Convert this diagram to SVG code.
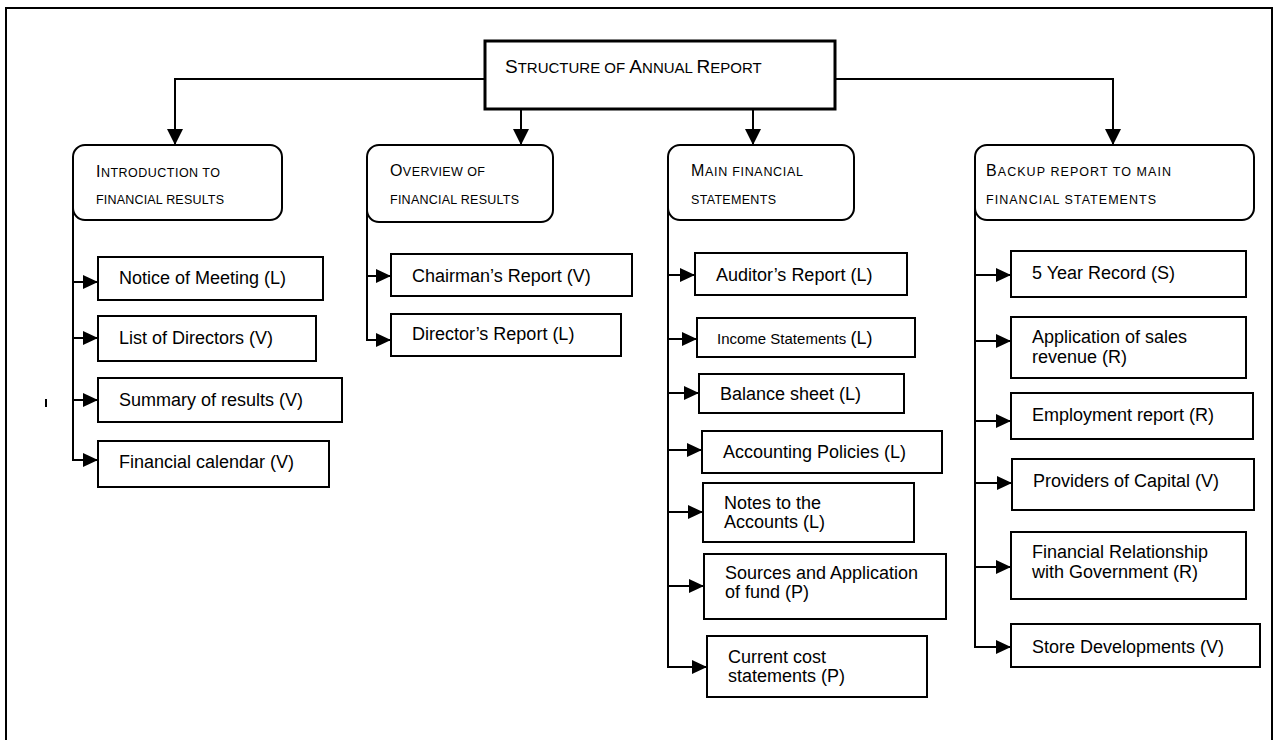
<svg xmlns="http://www.w3.org/2000/svg" width="1280" height="740" viewBox="0 0 1280 740">
<defs>
<marker id="arr" viewBox="0 0 15 14" refX="15" refY="7" markerWidth="15" markerHeight="14" markerUnits="userSpaceOnUse" orient="auto">
<path d="M0,0 L15,7 L0,14 Z" fill="#000"/>
</marker>
<marker id="arrD" viewBox="0 0 16 16" refX="16" refY="8" markerWidth="16" markerHeight="16" markerUnits="userSpaceOnUse" orient="auto">
<path d="M0,0 L16,8 L0,16 Z" fill="#000"/>
</marker>
</defs>
<style>
text{font-family:"Liberation Sans",Arial,sans-serif;fill:#000}
.lbl{font-size:18px}
.title .b{font-size:19px}
.title .s{font-size:15px}
.hdr .b{font-size:16px}
.hdr .s{font-size:12.5px}
.box{fill:#fff;stroke:#000;stroke-width:2}
.rbox{fill:#fff;stroke:#000;stroke-width:2}
.con{fill:none;stroke:#000;stroke-width:2}
</style>
<rect width="1280" height="740" fill="#fff"/>
<path d="M6,740 V8 H1272 V740" fill="none" stroke="#000" stroke-width="2"/>
<rect x="45" y="399" width="2" height="8" fill="#000"/>

<g id="connectors">
<path class="con" d="M484,79 H175 V145" marker-end="url(#arrD)"/>
<path class="con" d="M836,79 H1113 V145" marker-end="url(#arrD)"/>
<path class="con" d="M521,110 V145" marker-end="url(#arrD)"/>
<path class="con" d="M753,110 V145" marker-end="url(#arrD)"/>
<!-- column 1 -->
<path class="con" d="M73,208 V460 H98" marker-end="url(#arr)"/>
<path class="con" d="M73,282 H98" marker-end="url(#arr)"/>
<path class="con" d="M73,338 H98" marker-end="url(#arr)"/>
<path class="con" d="M73,400 H98" marker-end="url(#arr)"/>
<!-- column 2 -->
<path class="con" d="M367,208 V340 H391" marker-end="url(#arr)"/>
<path class="con" d="M367,276 H391" marker-end="url(#arr)"/>
<!-- column 3 -->
<path class="con" d="M668,208 V667 H707" marker-end="url(#arr)"/>
<path class="con" d="M668,275 H695" marker-end="url(#arr)"/>
<path class="con" d="M668,339 H697" marker-end="url(#arr)"/>
<path class="con" d="M668,393 H699" marker-end="url(#arr)"/>
<path class="con" d="M668,450 H702" marker-end="url(#arr)"/>
<path class="con" d="M668,512 H703" marker-end="url(#arr)"/>
<path class="con" d="M668,586 H704" marker-end="url(#arr)"/>
<!-- column 4 -->
<path class="con" d="M975,208 V647 H1011" marker-end="url(#arr)"/>
<path class="con" d="M975,275 H1011" marker-end="url(#arr)"/>
<path class="con" d="M975,341 H1011" marker-end="url(#arr)"/>
<path class="con" d="M975,421 H1011" marker-end="url(#arr)"/>
<path class="con" d="M975,483 H1012" marker-end="url(#arr)"/>
<path class="con" d="M975,567 H1011" marker-end="url(#arr)"/>
</g>

<g id="root">
<rect x="485" y="41" width="350" height="68" fill="#fff" stroke="#000" stroke-width="3"/>
<text class="title" x="505" y="73"><tspan class="b">S</tspan><tspan class="s">TRUCTURE OF </tspan><tspan class="b">A</tspan><tspan class="s">NNUAL </tspan><tspan class="b">R</tspan><tspan class="s">EPORT</tspan></text>
</g>

<g id="intro">
<rect class="rbox" x="73" y="145" width="209" height="75" rx="12"/>
<text class="hdr" x="96" y="177" textLength="124" lengthAdjust="spacing"><tspan class="b">I</tspan><tspan class="s">NTRODUCTION TO</tspan></text>
<text class="hdr" x="96" y="204" textLength="128" lengthAdjust="spacing"><tspan class="s">FINANCIAL RESULTS</tspan></text>
</g>
<g id="overview">
<rect class="rbox" x="367" y="145" width="186" height="77" rx="12"/>
<text class="hdr" x="390" y="176" textLength="95" lengthAdjust="spacing"><tspan class="b">O</tspan><tspan class="s">VERVIEW OF</tspan></text>
<text class="hdr" x="390" y="204" textLength="129" lengthAdjust="spacing"><tspan class="s">FINANCIAL RESULTS</tspan></text>
</g>
<g id="main">
<rect class="rbox" x="668" y="145" width="186" height="75" rx="12"/>
<text class="hdr" x="691" y="176" textLength="112" lengthAdjust="spacing"><tspan class="b">M</tspan><tspan class="s">AIN FINANCIAL</tspan></text>
<text class="hdr" x="691" y="204" textLength="85" lengthAdjust="spacing"><tspan class="s">STATEMENTS</tspan></text>
</g>
<g id="backup">
<rect class="rbox" x="975" y="145" width="279" height="75" rx="12"/>
<text class="hdr" x="986" y="176" textLength="185" lengthAdjust="spacing"><tspan class="b">B</tspan><tspan class="s">ACKUP REPORT TO MAIN</tspan></text>
<text class="hdr" x="986" y="204" textLength="170" lengthAdjust="spacing"><tspan class="s">FINANCIAL STATEMENTS</tspan></text>
</g>

<g id="notice"><rect class="box" x="98" y="257" width="225" height="43"/><text class="lbl" x="119" y="284">Notice of Meeting (L)</text></g>
<g id="directors"><rect class="box" x="98" y="316" width="218" height="45"/><text class="lbl" x="119" y="344">List of Directors (V)</text></g>
<g id="summary"><rect class="box" x="98" y="378" width="244" height="44"/><text class="lbl" x="119" y="406">Summary of results (V)</text></g>
<g id="calendar"><rect class="box" x="98" y="441" width="231" height="46"/><text class="lbl" x="119" y="468">Financial calendar (V)</text></g>

<g id="chairman"><rect class="box" x="391" y="254" width="241" height="42"/><text class="lbl" x="412" y="282">Chairman’s Report (V)</text></g>
<g id="director"><rect class="box" x="391" y="314" width="230" height="42"/><text class="lbl" x="412" y="340">Director’s Report (L)</text></g>

<g id="auditor"><rect class="box" x="695" y="253" width="212" height="42"/><text class="lbl" x="716" y="281">Auditor’s Report (L)</text></g>
<g id="income"><rect class="box" x="697" y="318" width="218" height="39"/><text class="lbl" x="717" y="344"><tspan font-size="15">Income Statements </tspan>(L)</text></g>
<g id="balance"><rect class="box" x="699" y="374" width="205" height="39"/><text class="lbl" x="720" y="400">Balance sheet (L)</text></g>
<g id="policies"><rect class="box" x="702" y="431" width="240" height="42"/><text class="lbl" x="723" y="458">Accounting Policies (L)</text></g>
<g id="notes"><rect class="box" x="703" y="483" width="211" height="59"/><text class="lbl" x="724" y="509">Notes to the</text><text class="lbl" x="724" y="528">Accounts (L)</text></g>
<g id="sources"><rect class="box" x="704" y="554" width="242" height="65"/><text class="lbl" x="725" y="579">Sources and Application</text><text class="lbl" x="725" y="598">of fund (P)</text></g>
<g id="current"><rect class="box" x="707" y="636" width="220" height="61"/><text class="lbl" x="728" y="663">Current cost</text><text class="lbl" x="728" y="682">statements (P)</text></g>

<g id="record"><rect class="box" x="1011" y="251" width="235" height="46"/><text class="lbl" x="1032" y="279">5 Year Record (S)</text></g>
<g id="sales"><rect class="box" x="1011" y="317" width="235" height="61"/><text class="lbl" x="1032" y="343">Application of sales</text><text class="lbl" x="1032" y="363">revenue (R)</text></g>
<g id="employment"><rect class="box" x="1011" y="393" width="242" height="46"/><text class="lbl" x="1032" y="421">Employment report (R)</text></g>
<g id="capital"><rect class="box" x="1012" y="459" width="242" height="51"/><text class="lbl" x="1033" y="487">Providers of Capital (V)</text></g>
<g id="government"><rect class="box" x="1011" y="532" width="235" height="67"/><text class="lbl" x="1032" y="558">Financial Relationship</text><text class="lbl" x="1032" y="578">with Government (R)</text></g>
<g id="store"><rect class="box" x="1011" y="624" width="249" height="43"/><text class="lbl" x="1032" y="653">Store Developments (V)</text></g>
</svg>
